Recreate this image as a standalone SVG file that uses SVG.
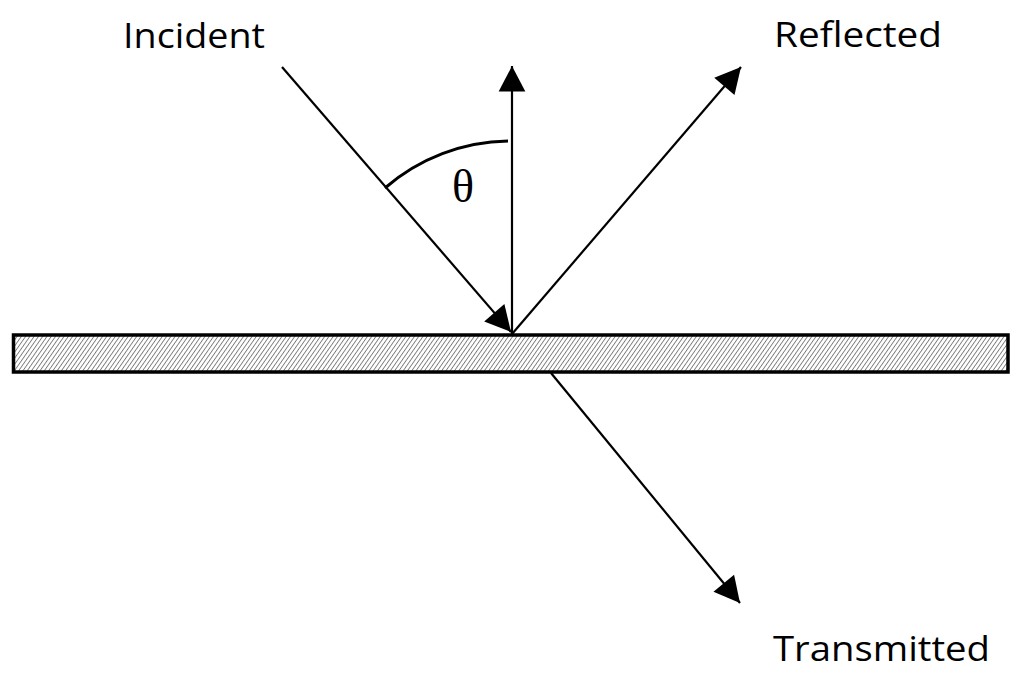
<svg xmlns="http://www.w3.org/2000/svg" width="1024" height="693" viewBox="0 0 1024 693">
<style>
.ray{stroke:#000;stroke-width:2.2;fill:none}
.lbl{font-family:"Open Sans","Noto Sans","Liberation Sans",sans-serif;font-size:34px;fill:#000}
</style>
<defs>
<pattern id="hatch" patternUnits="userSpaceOnUse" width="3.5" height="3.5" patternTransform="rotate(35)">
<rect width="3.5" height="3.5" fill="#fff"/>
<line x1="0" y1="0" x2="0" y2="3.5" stroke="#7a7a7a" stroke-width="1.8"/>
</pattern>
<marker id="ah" markerUnits="userSpaceOnUse" markerWidth="30" markerHeight="30" viewBox="-25 -13 27 26" refX="0" refY="0" orient="auto">
<path d="M0,0 L-23,-12 L-23,12 Z" fill="#000"/>
</marker>
</defs>
<rect width="1024" height="693" fill="#fff"/>
<g id="slab">
<rect x="13.5" y="335" width="994.5" height="37" fill="url(#hatch)" stroke="#000" stroke-width="3.5"/>
</g>
<g id="connectors">
<line id="incident-ray" class="ray" x1="282" y1="67" x2="511" y2="332" marker-end="url(#ah)"/>
<line id="normal" class="ray" x1="512" y1="334" x2="512" y2="66" marker-end="url(#ah)"/>
<line id="reflected-ray" class="ray" x1="512" y1="334" x2="741" y2="67" marker-end="url(#ah)"/>
<line id="transmitted-ray" class="ray" x1="551" y1="373" x2="740" y2="603" marker-end="url(#ah)"/>
<path id="angle-arc" d="M385,188 A192,192 0 0 1 508,141" stroke="#000" stroke-width="3" fill="none"/>
</g>
<g id="theta"><text x="463" y="202" text-anchor="middle" font-family="'Liberation Serif',serif" font-size="46">θ</text></g>
<g id="incident-label"><text class="lbl" x="123" y="48" textLength="142" lengthAdjust="spacingAndGlyphs">Incident</text></g>
<g id="reflected-label"><text class="lbl" x="774" y="47" textLength="168" lengthAdjust="spacingAndGlyphs">Reflected</text></g>
<g id="transmitted-label"><text class="lbl" x="773" y="661" textLength="217" lengthAdjust="spacingAndGlyphs">Transmitted</text></g>
</svg>
